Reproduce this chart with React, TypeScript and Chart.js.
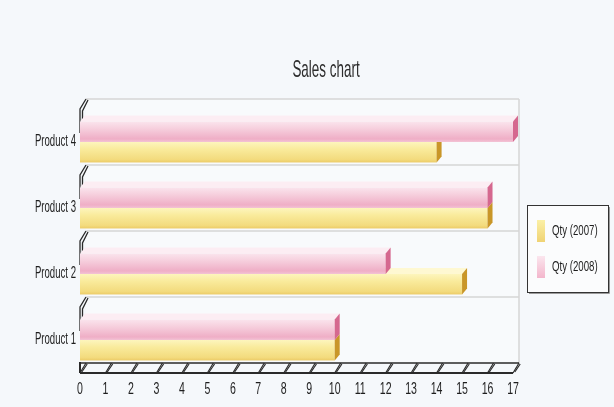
import React, { useEffect, useRef } from 'react';
import { Chart, registerables } from 'chart.js';

Chart.register(...registerables);

// ---- data ----
const categories = ['Product 4', 'Product 3', 'Product 2', 'Product 1'];
const qty2007 = [14, 16, 15, 10];
const qty2008 = [17, 16, 12, 10];
const seriesLabels = ['Qty (2008)', 'Qty (2007)'];
const legendOrder = [1, 0];
const titleText = 'Sales chart';
const xMin = 0;
const xMax = 17;
const xStep = 1;

// ---- styles ----
const FONT = "'Liberation Sans', Arial, sans-serif";
const BG = '#f5f8fb';
const TEXT = '#1e1e1e';
const STYLES = [
  { // pink 2008
    grad: ['#fae4ed', '#f6cfdd', '#efaec6', '#f3c3d5'],
    topFace: '#fcedf3',
    cap: '#d5688f',
    swatch: ['#fbe6ee', '#f3b6cc'],
  },
  { // yellow 2007
    grad: ['#fdf5bd', '#f9eb9c', '#f3db7e', '#eccb67'],
    topFace: '#fef8d2',
    cap: '#c99628',
    swatch: ['#fbf0a6', '#f0d374'],
  },
];

const AXIS_DX = 6;
const AXIS_DY = 10;
const BAR_DX = 5;
const BAR_DY = 6;

function condensedText(ctx: any, text: string, x: number, y: number, size: number, sx: number, align: string) {
  ctx.save();
  ctx.translate(x, y);
  ctx.scale(sx, 1);
  ctx.font = `${size}px ${FONT}`;
  ctx.textAlign = align;
  ctx.textBaseline = 'middle';
  ctx.fillText(text, 0, 0);
  ctx.restore();
}

const scenePlugin = {
  id: 'scene3d',
  beforeDraw(chart: any) {
    const { ctx, width, height } = chart;
    ctx.save();
    ctx.fillStyle = BG;
    ctx.fillRect(0, 0, width, height);
    ctx.restore();
  },
  beforeDatasetsDraw(chart: any) {
    const { ctx, chartArea: a, scales } = chart;
    const xs = scales.x;
    const ys = scales.y;
    ctx.save();
    // back wall
    ctx.fillStyle = '#f8fafc';
    ctx.fillRect(a.left + AXIS_DX, a.top - AXIS_DY, a.right - a.left, a.bottom - a.top);
    const half = Math.abs(ys.getPixelForValue(1) - ys.getPixelForValue(0)) / 2;
    // band gridlines on back wall
    ctx.strokeStyle = '#d6d6d6';
    ctx.lineWidth = 1.5;
    for (let i = 0; i < categories.length; i++) {
      const yb = ys.getPixelForValue(i) - half;
      ctx.beginPath();
      ctx.moveTo(a.left + AXIS_DX, yb - AXIS_DY);
      ctx.lineTo(a.right + AXIS_DX, yb - AXIS_DY);
      ctx.stroke();
    }
    // right wall edge
    ctx.beginPath();
    ctx.moveTo(a.right + AXIS_DX, a.top - AXIS_DY);
    ctx.lineTo(a.right + AXIS_DX, a.bottom - AXIS_DY);
    ctx.stroke();

    // left axis marks
    ctx.strokeStyle = '#2a2a2a';
    ctx.lineWidth = 1.3;
    for (let i = 0; i < categories.length; i++) {
      const yb = ys.getPixelForValue(i) - half;
      ctx.beginPath();
      ctx.moveTo(a.left, yb + 24);
      ctx.lineTo(a.left, yb);
      ctx.lineTo(a.left + AXIS_DX, yb - AXIS_DY);
      ctx.stroke();
      ctx.beginPath();
      ctx.moveTo(a.left + 2.5, yb + 12);
      ctx.lineTo(a.left + 2.5, yb + 2);
      ctx.lineTo(a.left + AXIS_DX + 2, yb - AXIS_DY + 1);
      ctx.stroke();
    }

    // x axis (3D strip)
    ctx.strokeStyle = '#2a2a2a';
    ctx.lineWidth = 1.5;
    ctx.beginPath();
    ctx.moveTo(a.left, a.bottom - AXIS_DY);
    ctx.lineTo(a.right + AXIS_DX, a.bottom - AXIS_DY);
    ctx.stroke();
    ctx.lineWidth = 2;
    ctx.beginPath();
    ctx.moveTo(a.left, a.bottom);
    ctx.lineTo(a.right, a.bottom);
    ctx.stroke();
    ctx.beginPath();
    ctx.moveTo(a.left, a.bottom - AXIS_DY - 1);
    ctx.lineTo(a.left, a.bottom);
    ctx.stroke();
    ctx.lineWidth = 1.2;
    xs.ticks.forEach((t: any) => {
      const px = xs.getPixelForValue(t.value);
      ctx.beginPath();
      ctx.moveTo(px, a.bottom);
      ctx.lineTo(px + AXIS_DX, a.bottom - AXIS_DY);
      ctx.stroke();
      ctx.beginPath();
      ctx.moveTo(px + 1.8, a.bottom - 1);
      ctx.lineTo(px + AXIS_DX + 1.2, a.bottom - AXIS_DY + 1);
      ctx.stroke();
    });
    ctx.restore();
  },
  afterDatasetsDraw(chart: any) {
    const { ctx } = chart;
    ctx.save();
    for (const di of [1, 0]) {
      const meta = chart.getDatasetMeta(di);
      const st = STYLES[di];
      meta.data.forEach((el: any) => {
        const p = el.getProps(['x', 'y', 'base', 'height'], true);
        const top = p.y - p.height / 2;
        const bot = p.y + p.height / 2;
        const x0 = p.base;
        const x1 = p.x;
        // top face
        ctx.fillStyle = st.topFace;
        ctx.beginPath();
        ctx.moveTo(x0, top);
        ctx.lineTo(x0 + BAR_DX, top - BAR_DY);
        ctx.lineTo(x1 + BAR_DX, top - BAR_DY);
        ctx.lineTo(x1, top);
        ctx.closePath();
        ctx.fill();
        // front face
        const g = ctx.createLinearGradient(0, top, 0, bot);
        g.addColorStop(0, st.grad[0]);
        g.addColorStop(0.35, st.grad[1]);
        g.addColorStop(0.85, st.grad[2]);
        g.addColorStop(1, st.grad[3]);
        ctx.fillStyle = g;
        ctx.fillRect(x0, top, x1 - x0, bot - top);
        // end cap
        ctx.fillStyle = st.cap;
        ctx.beginPath();
        ctx.moveTo(x1, top);
        ctx.lineTo(x1 + BAR_DX, top - BAR_DY);
        ctx.lineTo(x1 + BAR_DX, bot - BAR_DY);
        ctx.lineTo(x1, bot);
        ctx.closePath();
        ctx.fill();
      });
    }
    ctx.restore();
  },
  afterDraw(chart: any) {
    const { ctx, chartArea: a, width, scales } = chart;
    const xs = scales.x;
    const ys = scales.y;
    ctx.save();
    ctx.fillStyle = TEXT;
    // axis labels (condensed)
    for (let i = 0; i < categories.length; i++) {
      condensedText(ctx, ys.getLabelForValue(i), a.left - 4, ys.getPixelForValue(i), 16, 0.6, 'right');
    }
    xs.ticks.forEach((t: any) => {
      condensedText(ctx, String(t.label), xs.getPixelForValue(t.value), a.bottom + 17, 16, 0.66, 'center');
    });

    // title
    ctx.fillStyle = '#2e2e2e';
    condensedText(ctx, titleText, width / 2 + 19, a.top - 39, 24, 0.56, 'center');

    // legend box
    const lx = a.right + 14;
    const ly = a.top + 96;
    const lw = 81;
    const lh = 87;
    ctx.fillStyle = '#fbfcfd';
    ctx.fillRect(lx, ly, lw, lh);
    ctx.strokeStyle = '#9a9a9a';
    ctx.lineWidth = 1;
    ctx.beginPath();
    ctx.moveTo(lx + lw + 1.5, ly + 2);
    ctx.lineTo(lx + lw + 1.5, ly + lh + 1.5);
    ctx.lineTo(lx + 2, ly + lh + 1.5);
    ctx.stroke();
    ctx.strokeStyle = '#333333';
    ctx.strokeRect(lx + 0.5, ly + 0.5, lw, lh);
    legendOrder.forEach((di, k) => {
      const st = STYLES[di];
      const sy = ly + 15 + k * 36;
      const g = ctx.createLinearGradient(0, sy, 0, sy + 22);
      g.addColorStop(0, st.swatch[0]);
      g.addColorStop(1, st.swatch[1]);
      ctx.fillStyle = g;
      ctx.fillRect(lx + 10, sy, 8, 22);
      ctx.fillStyle = TEXT;
      condensedText(ctx, chart.data.datasets[di].label, lx + 25, sy + 11, 14, 0.69, 'left');
    });
    ctx.restore();
  },
};

export default function App() {
  const ref = useRef<HTMLCanvasElement | null>(null);
  useEffect(() => {
    if (!ref.current) return;
    const chart = new Chart(ref.current, {
      type: 'bar',
      data: {
        labels: categories,
        datasets: [
          { label: seriesLabels[0], data: qty2008, backgroundColor: 'rgba(0,0,0,0)', borderWidth: 0 },
          { label: seriesLabels[1], data: qty2007, backgroundColor: 'rgba(0,0,0,0)', borderWidth: 0 },
        ],
      },
      options: {
        indexAxis: 'y',
        responsive: false,
        animation: false,
        events: [],
        devicePixelRatio: 1,
        datasets: { bar: { categoryPercentage: 0.62, barPercentage: 1 } },
        layout: { padding: { top: 109, right: 101, left: 0, bottom: 0 } },
        plugins: {
          legend: { display: false },
          title: { display: false },
          tooltip: { enabled: false },
        },
        scales: {
          x: {
            type: 'linear',
            min: xMin,
            max: xMax,
            grid: { display: false, drawTicks: false },
            border: { display: false },
            ticks: { stepSize: xStep, display: false },
            afterFit: (s: any) => { s.height = 34; },
          },
          y: {
            type: 'category',
            grid: { display: false, drawTicks: false },
            border: { display: false },
            ticks: { display: false },
            afterFit: (s: any) => { s.width = 80; },
          },
        },
      },
      plugins: [scenePlugin],
    });
    return () => chart.destroy();
  }, []);
  return (
    <div style={{ position: 'fixed', left: 0, top: 0, width: 614, height: 407, background: BG }}>
      <canvas ref={ref} width={614} height={407} style={{ display: 'block' }} />
    </div>
  );
}
